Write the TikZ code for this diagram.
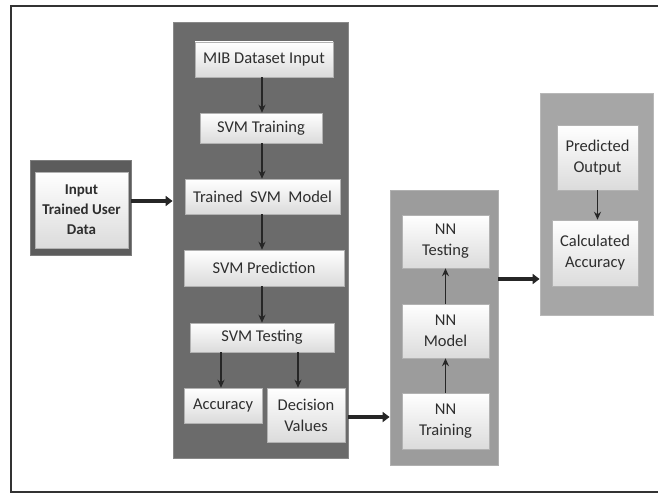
\documentclass[tikz,border=0pt]{standalone}
\usepackage{fontspec}
\setmainfont{Carlito}
\usetikzlibrary{arrows.meta,shadings}
\definecolor{svmgray}{HTML}{6B6B6B}
\definecolor{inpgray}{HTML}{5C5C5C}
\definecolor{nngray}{HTML}{9C9C9C}
\definecolor{outgray}{HTML}{A6A6A6}
\definecolor{txtgray}{HTML}{2E2E2E}
\tikzset{
  panel/.style={draw=#1!80!white, line width=0.8pt, fill=#1, inner sep=0pt},
  stepbox/.style={draw=gray!60, line width=0.5pt, top color=white, bottom color=gray!28,
    inner sep=0pt, align=center, text=txtgray,
    font=\fontsize{16.5}{21}\selectfont},
  inbox/.style={stepbox, font=\fontsize{15}{20}\selectfont\bfseries},
  flow/.style={-{Stealth[length=8pt,width=7pt]}, line width=1.8pt, black!85},
  bigflow/.style={-{Triangle[length=7pt,width=10pt]}, line width=3.2pt, black!85},
}
\begin{document}
\begin{tikzpicture}[x=1pt,y=-1pt]
\useasboundingbox (0,0) rectangle (658,495);
\fill[white] (0,0) rectangle (658,495);
% outer frame (right side runs off the picture)
\draw[line width=1.4pt, black!80] (658,6) -- (11,6) -- (11,492) -- (658,492);

% panels
\node[panel=inpgray, minimum width=101pt, minimum height=95pt] (inpp) at (80.5,207.5) {};
\node[panel=svmgray, minimum width=175pt, minimum height=436pt] (svm) at (260.5,240) {};
\node[panel=nngray, minimum width=108pt, minimum height=275pt] (nn) at (444,327.5) {};
\node[panel=outgray, minimum width=113pt, minimum height=222pt] (out) at (596.5,204) {};

% input
\node[inbox, minimum width=93pt, minimum height=76pt] (inp) at (81.5,210) {Input\\Trained User\\Data};

% SVM steps
\node[stepbox, minimum width=138pt, minimum height=35pt] (mib) at (264,59.5) {MIB Dataset Input};
\node[stepbox, minimum width=122pt, minimum height=30pt] (svmtr) at (261,128) {SVM Training};
\node[stepbox, minimum width=155pt, minimum height=35pt] (tsm) at (262.5,196.5) {Trained\ \ SVM\ \ Model};
\node[stepbox, minimum width=160pt, minimum height=36pt] (pred) at (264,268) {SVM Prediction};
\node[stepbox, minimum width=144pt, minimum height=29pt] (test) at (262,337.5) {SVM Testing};
\node[stepbox, minimum width=78pt, minimum height=35pt] (acc) at (223,405.5) {Accuracy};
\node[stepbox, minimum width=78pt, minimum height=54pt] (dec) at (306,415) {Decision\\Values};

% NN steps
\node[stepbox, minimum width=87pt, minimum height=53pt] (nnt) at (445.5,241.5) {NN\\Testing};
\node[stepbox, minimum width=87pt, minimum height=54pt] (nnm) at (445.5,331) {NN\\Model};
\node[stepbox, minimum width=87pt, minimum height=56pt] (nntr) at (445.5,421) {NN\\Training};

% output steps
\node[stepbox, minimum width=81pt, minimum height=65pt] (po) at (597.5,157.5) {Predicted\\Output};
\node[stepbox, minimum width=86pt, minimum height=66pt] (ca) at (595,253) {Calculated\\Accuracy};

% inner arrows
\draw[flow] (mib.south -| 262,0) -- (svmtr.north -| 262,0);
\draw[flow] (svmtr.south -| 262,0) -- (tsm.north -| 262,0);
\draw[flow] (tsm.south -| 262,0) -- (pred.north -| 262,0);
\draw[flow] (pred.south -| 262,0) -- (test.north -| 262,0);
\draw[flow] (test.south -| 221,0) -- (acc.north -| 221,0);
\draw[flow] (test.south -| 298,0) -- (dec.north -| 298,0);
\draw[flow] (nntr.north) -- (nnm.south);
\draw[flow] (nnm.north) -- (nnt.south);
\draw[flow] (po.south) -- (ca.north -| po.south);

% connecting arrows
\draw[bigflow] (inpp.east |- 0,201) -- (svm.west |- 0,201);
\draw[bigflow] (svm.east |- 0,417) -- (nn.west |- 0,417);
\draw[bigflow] (nn.east |- 0,279) -- (out.west |- 0,279);
\end{tikzpicture}
\end{document}
